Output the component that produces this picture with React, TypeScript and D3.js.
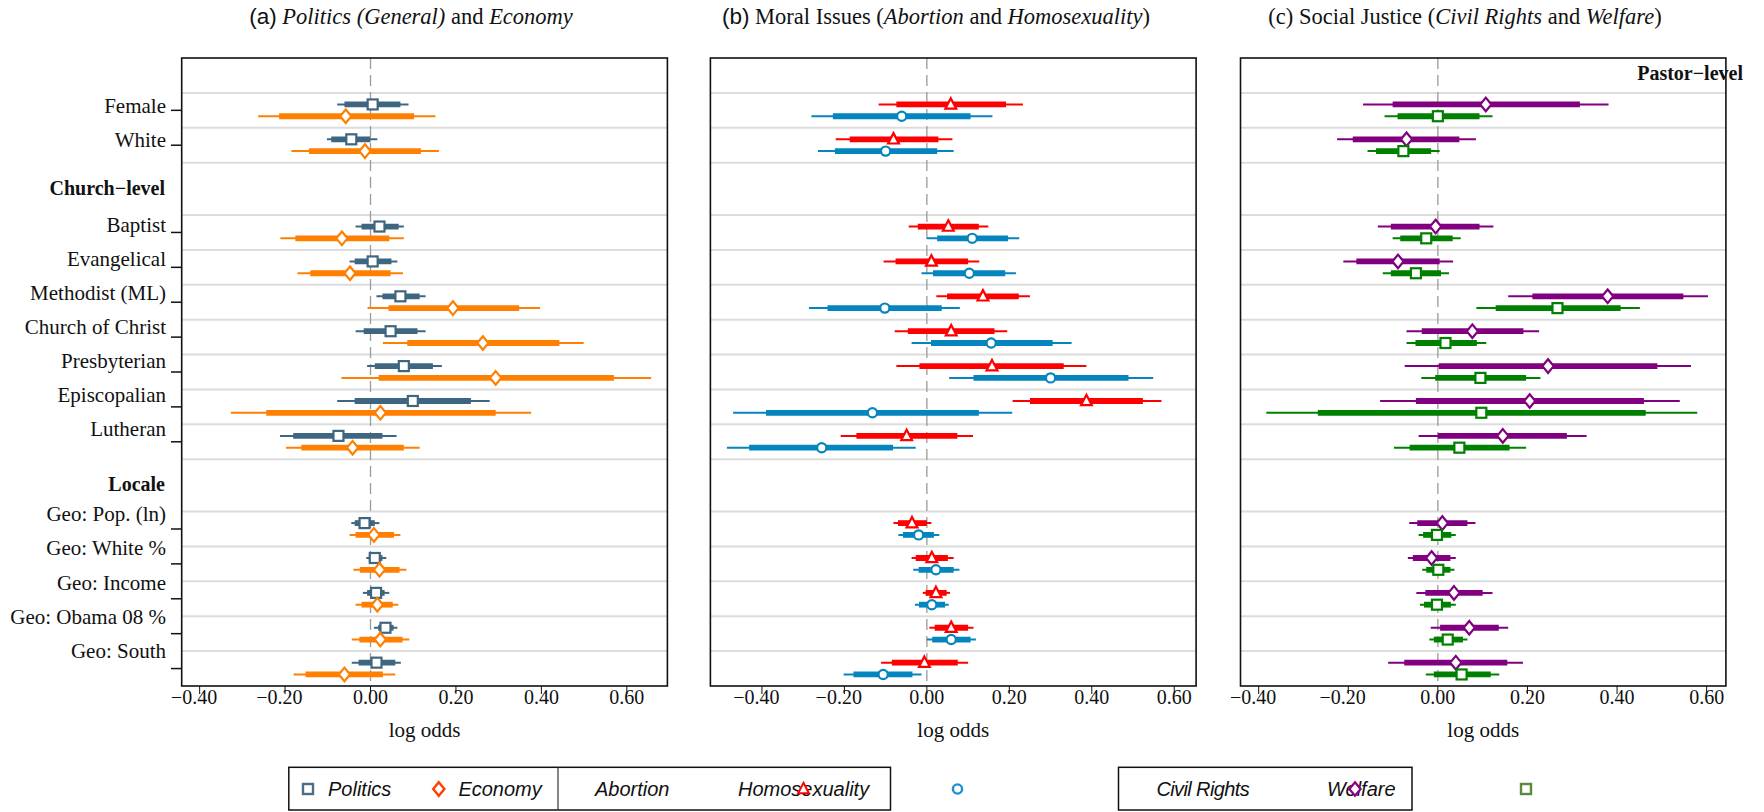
import * as d3 from "d3";

const variables = [
  "Female",
  "White",
  "Baptist",
  "Evangelical",
  "Methodist (ML)",
  "Church of Christ",
  "Presbyterian",
  "Episcopalian",
  "Lutheran",
  "Geo: Pop. (ln)",
  "Geo: White %",
  "Geo: Income",
  "Geo: Obama 08 %",
  "Geo: South",
];
const groupHeaders = ["Pastor−level", "Church−level", "Locale"];
const groupSizes = [2, 7, 5];
const xTicks = [-0.4, -0.2, 0, 0.2, 0.4, 0.6];

// each row: [estimate, outer low, inner low, inner high, outer high]
const politics = [
  [0.005, -0.078, -0.061, 0.07, 0.089],
  [-0.045, -0.102, -0.092, 0.0, 0.016],
  [0.021, -0.035, -0.021, 0.066, 0.078],
  [0.005, -0.049, -0.037, 0.049, 0.063],
  [0.07, 0.014, 0.028, 0.115, 0.129],
  [0.047, -0.035, -0.016, 0.11, 0.129],
  [0.078, -0.008, 0.01, 0.146, 0.167],
  [0.099, -0.078, -0.037, 0.235, 0.279],
  [-0.075, -0.212, -0.181, 0.028, 0.061],
  [-0.014, -0.045, -0.037, 0.01, 0.021],
  [0.01, -0.01, -0.004, 0.028, 0.037],
  [0.013, -0.018, -0.008, 0.033, 0.044],
  [0.035, 0.008, 0.018, 0.054, 0.063],
  [0.014, -0.044, -0.028, 0.058, 0.071],
];
const economy = [
  [-0.058, -0.263, -0.214, 0.102, 0.152],
  [-0.013, -0.185, -0.144, 0.118, 0.16],
  [-0.067, -0.211, -0.176, 0.044, 0.078],
  [-0.048, -0.171, -0.141, 0.047, 0.076],
  [0.193, -0.007, 0.042, 0.348, 0.397],
  [0.263, 0.029, 0.086, 0.442, 0.499],
  [0.293, -0.068, 0.019, 0.57, 0.657],
  [0.023, -0.327, -0.244, 0.293, 0.376],
  [-0.042, -0.198, -0.162, 0.078, 0.115],
  [0.008, -0.049, -0.035, 0.055, 0.07],
  [0.021, -0.04, -0.025, 0.068, 0.084],
  [0.016, -0.035, -0.021, 0.052, 0.065],
  [0.023, -0.044, -0.026, 0.075, 0.091],
  [-0.061, -0.18, -0.152, 0.029, 0.058],
];
const abortion = [
  [0.058, -0.117, -0.074, 0.192, 0.233],
  [-0.081, -0.221, -0.187, 0.028, 0.062],
  [0.052, -0.044, -0.022, 0.126, 0.149],
  [0.011, -0.105, -0.076, 0.1, 0.127],
  [0.136, 0.023, 0.049, 0.223, 0.25],
  [0.059, -0.078, -0.046, 0.164, 0.195],
  [0.158, -0.074, -0.018, 0.332, 0.387],
  [0.387, 0.208, 0.25, 0.524, 0.569],
  [-0.049, -0.209, -0.171, 0.074, 0.112],
  [-0.036, -0.081, -0.07, 0.0, 0.011],
  [0.012, -0.037, -0.027, 0.051, 0.065],
  [0.022, -0.01, -0.003, 0.048, 0.056],
  [0.059, 0.006, 0.019, 0.1, 0.113],
  [-0.006, -0.111, -0.085, 0.075, 0.1],
];
const homosexuality = [
  [-0.061, -0.28, -0.228, 0.106, 0.159],
  [-0.1, -0.264, -0.223, 0.025, 0.065],
  [0.11, 0.0, 0.025, 0.197, 0.224],
  [0.103, -0.013, 0.015, 0.19, 0.216],
  [-0.102, -0.286, -0.241, 0.036, 0.08],
  [0.156, -0.037, 0.01, 0.305, 0.351],
  [0.3, 0.054, 0.113, 0.489, 0.549],
  [-0.132, -0.47, -0.39, 0.126, 0.207],
  [-0.255, -0.485, -0.431, -0.082, -0.027],
  [-0.02, -0.069, -0.058, 0.017, 0.03],
  [0.022, -0.033, -0.02, 0.065, 0.079],
  [0.012, -0.029, -0.019, 0.044, 0.053],
  [0.059, 0.0, 0.013, 0.106, 0.119],
  [-0.106, -0.202, -0.178, -0.035, -0.013],
];
const civilRights = [
  [0.107, -0.167, -0.101, 0.317, 0.381],
  [-0.07, -0.225, -0.19, 0.048, 0.085],
  [-0.005, -0.134, -0.105, 0.093, 0.124],
  [-0.089, -0.211, -0.182, 0.004, 0.034],
  [0.379, 0.157, 0.211, 0.548, 0.603],
  [0.077, -0.07, -0.036, 0.191, 0.226],
  [0.246, -0.074, 0.002, 0.49, 0.565],
  [0.205, -0.129, -0.049, 0.46, 0.54],
  [0.145, -0.043, 0.0, 0.288, 0.332],
  [0.01, -0.064, -0.046, 0.066, 0.084],
  [-0.014, -0.067, -0.056, 0.028, 0.04],
  [0.036, -0.048, -0.028, 0.1, 0.122],
  [0.07, -0.016, 0.005, 0.136, 0.157],
  [0.04, -0.111, -0.075, 0.155, 0.19],
];
const welfare = [
  [0.0, -0.119, -0.09, 0.093, 0.122],
  [-0.077, -0.157, -0.138, -0.015, 0.004],
  [-0.026, -0.101, -0.084, 0.033, 0.051],
  [-0.049, -0.123, -0.105, 0.007, 0.025],
  [0.267, 0.086, 0.129, 0.408, 0.451],
  [0.017, -0.07, -0.05, 0.087, 0.108],
  [0.095, -0.037, -0.006, 0.197, 0.229],
  [0.097, -0.383, -0.268, 0.464, 0.579],
  [0.048, -0.098, -0.063, 0.16, 0.197],
  [-0.002, -0.043, -0.033, 0.03, 0.04],
  [0.001, -0.035, -0.026, 0.028, 0.037],
  [-0.002, -0.04, -0.031, 0.029, 0.04],
  [0.022, -0.019, -0.009, 0.056, 0.066],
  [0.053, -0.027, -0.009, 0.118, 0.137],
];

const SERIF = "'Liberation Serif', 'Times New Roman', serif";
const SANS = "'Liberation Sans', Arial, sans-serif";
const TOP = 58;
const BOTTOM = 686;
const headerUnits = [1, 1.5, 1.5];

// row layout in "units" (one unit per variable row)
const rowU: number[] = [];
const headerU: number[] = [];
let cur = 0;
groupSizes.forEach((n, g) => {
  headerU.push(cur + headerUnits[g] / 2);
  cur += headerUnits[g];
  for (let i = 0; i < n; i++) {
    rowU.push(cur + 0.5);
    cur += 1;
  }
});
const totalU = cur;
const y = d3.scaleLinear().domain([0, totalU]).range([TOP, BOTTOM]);
const labelY = d3.scaleLinear().domain([rowU[0], rowU[rowU.length - 1]]).range([105.5, 650.7]);
const sepU = Array.from(new Set(rowU.flatMap((u) => [u - 0.5, u + 0.5]))).filter((u) => u > 0 && u < totalU);

type Shape = "square" | "diamond" | "triangle" | "circle";

const panels = [
  {
    key: "a",
    range: [181.7, 667.4],
    domain: [-0.442, 0.695],
    titleX: 411,
    series: [
      { data: politics, color: "#3f6680", shape: "square" as Shape },
      { data: economy, color: "#ff7f00", shape: "diamond" as Shape },
    ],
  },
  {
    key: "b",
    range: [710.4, 1196.1],
    domain: [-0.525, 0.653],
    titleX: 936,
    series: [
      { data: abortion, color: "#ff0000", shape: "triangle" as Shape },
      { data: homosexuality, color: "#0485bd", shape: "circle" as Shape },
    ],
  },
  {
    key: "c",
    range: [1240.5, 1725.9],
    domain: [-0.4406, 0.643],
    titleX: 1465,
    series: [
      { data: civilRights, color: "#800080", shape: "diamond" as Shape },
      { data: welfare, color: "#008000", shape: "square" as Shape },
    ],
  },
];

function Marker({ shape, x, y, color, sw = 2.2 }: { shape: Shape; x: number; y: number; color: string; sw?: number }) {
  if (shape === "square")
    return <rect x={x - 5} y={y - 5} width={10} height={10} fill="white" stroke={color} strokeWidth={sw} />;
  if (shape === "circle") return <circle cx={x} cy={y} r={4.6} fill="white" stroke={color} strokeWidth={sw} />;
  if (shape === "diamond")
    return (
      <path
        d={`M${x},${y - 6.8}L${x + 5.6},${y}L${x},${y + 6.8}L${x - 5.6},${y}Z`}
        fill="white"
        stroke={color}
        strokeWidth={sw}
      />
    );
  return (
    <path
      d={`M${x},${y - 6.2}L${x + 5.4},${y + 4.2}L${x - 5.4},${y + 4.2}Z`}
      fill="white"
      stroke={color}
      strokeWidth={sw}
    />
  );
}

function Title({ k }: { k: string }) {
  if (k === "a")
    return (
      <>
        <tspan fontFamily={SANS}>(a)</tspan>
        <tspan fontStyle="italic"> Politics (General)</tspan>
        <tspan> and </tspan>
        <tspan fontStyle="italic">Economy</tspan>
      </>
    );
  if (k === "b")
    return (
      <>
        <tspan fontFamily={SANS}>(b)</tspan>
        <tspan> Moral Issues (</tspan>
        <tspan fontStyle="italic">Abortion</tspan>
        <tspan> and </tspan>
        <tspan fontStyle="italic">Homosexuality</tspan>
        <tspan>)</tspan>
      </>
    );
  return (
    <>
      <tspan>(c) Social Justice (</tspan>
      <tspan fontStyle="italic">Civil Rights</tspan>
      <tspan> and </tspan>
      <tspan fontStyle="italic">Welfare</tspan>
      <tspan>)</tspan>
    </>
  );
}

function Panel({ p }: { p: (typeof panels)[number] }) {
  const x = d3.scaleLinear().domain(p.domain).range(p.range);
  const [x0, x1] = p.range;
  const fmt = d3.format(".2f");
  const offsets = [-5.9, 5.9];
  return (
    <g>
      <text x={p.titleX} y={24} textAnchor="middle" fontFamily={SERIF} fontSize={22.5} fill="#111">
        <Title k={p.key} />
      </text>
      {sepU.map((u) => (
        <line key={u} x1={x0} x2={x1} y1={y(u)} y2={y(u)} stroke="#dcdcdc" strokeWidth={2} />
      ))}
      <line x1={x(0)} x2={x(0)} y1={TOP} y2={BOTTOM} stroke="#9a9a9a" strokeWidth={1.3} strokeDasharray="11,6" />
      {p.series.map((s, si) =>
        s.data.map((d, i) => {
          const yy = y(rowU[i]) + offsets[si];
          return (
            <g key={`${si}-${i}`}>
              <line x1={x(d[1])} x2={x(d[4])} y1={yy} y2={yy} stroke={s.color} strokeWidth={2} />
              <line x1={x(d[2])} x2={x(d[3])} y1={yy} y2={yy} stroke={s.color} strokeWidth={5.8} />
              <Marker shape={s.shape} x={x(d[0])} y={yy} color={s.color} />
            </g>
          );
        })
      )}
      <rect x={x0} y={TOP} width={x1 - x0} height={BOTTOM - TOP} fill="none" stroke="#111" strokeWidth={1.6} />
      {xTicks.map((t) => (
        <g key={t} fontFamily={SERIF} fontSize={20} fill="#111">
          <line x1={x(t)} x2={x(t)} y1={BOTTOM} y2={BOTTOM + 8} stroke="#111" strokeWidth={1} />
          <text x={x(t)} y={704} textAnchor="middle">
            {fmt(Math.abs(t))}
          </text>
          {t < 0 && (
            <text x={x(t) - 17.5} y={704} textAnchor="end">
              −
            </text>
          )}
        </g>
      ))}
      <text x={(x0 + x1) / 2} y={737} textAnchor="middle" fontFamily={SERIF} fontSize={21} fill="#111">
        log odds
      </text>
    </g>
  );
}

function Legend() {
  const ly = 789;
  const textProps = { fontFamily: SANS, fontSize: 20, fontStyle: "italic" as const, fill: "#111", dy: "0.35em" };
  return (
    <g>
      <rect x={288.8} y={767.3} width={601.7} height={42.7} fill="none" stroke="#111" strokeWidth={1.5} />
      <line x1={558} x2={558} y1={767.3} y2={810} stroke="#333" strokeWidth={1.2} />
      <Marker shape="square" x={308} y={ly} color="#4a6d8c" sw={2.4} />
      <text x={328} y={ly} {...textProps}>
        Politics
      </text>
      <Marker shape="diamond" x={438.8} y={ly} color="#ff4000" sw={2.4} />
      <text x={458.4} y={ly} {...textProps}>
        Economy
      </text>
      <text x={595} y={ly} {...textProps}>
        Abortion
      </text>
      <text x={738} y={ly} {...textProps}>
        Homosexuality
      </text>
      <Marker shape="triangle" x={803.5} y={ly} color="#ff0000" sw={2} />
      <Marker shape="circle" x={957.5} y={ly} color="#1a90d0" sw={2.4} />

      <rect x={1118.5} y={767.3} width={293.5} height={42.7} fill="none" stroke="#111" strokeWidth={1.5} />
      <text x={1156.4} y={ly} {...textProps} letterSpacing={-0.6}>
        Civil Rights
      </text>
      <text x={1327} y={ly} {...textProps}>
        Welfare
      </text>
      <Marker shape="diamond" x={1355} y={ly} color="#8b008b" sw={2.2} />
      <Marker shape="square" x={1526} y={ly} color="#5c8a3a" sw={2.4} />
    </g>
  );
}

export default function App() {
  const tickX0 = 171;
  const tickX1 = panels[0].range[0];
  return (
    <svg width={1764} height={812} style={{ position: "absolute", left: 0, top: 0, background: "white" }}>
      <rect width={1764} height={812} fill="white" />
      {panels.map((p) => (
        <Panel key={p.key} p={p} />
      ))}
      {/* variable labels and y ticks on the left of panel (a) */}
      {variables.map((v, i) => (
        <g key={v}>
          <line x1={tickX0} x2={tickX1} y1={y(rowU[i])} y2={y(rowU[i])} stroke="#111" strokeWidth={1.5} />
          <text x={166} y={labelY(rowU[i]) + 7} textAnchor="end" fontFamily={SERIF} fontSize={21} fill="#111">
            {v}
          </text>
        </g>
      ))}
      {groupHeaders.slice(1).map((h, i) => (
        <text
          key={h}
          x={165}
          y={y(headerU[i + 1]) + 6}
          textAnchor="end"
          fontFamily={SERIF}
          fontSize={20}
          fontWeight="bold"
          fill="#111"
        >
          {h}
        </text>
      ))}
      <text x={1743} y={80} textAnchor="end" fontFamily={SERIF} fontSize={20} fontWeight="bold" fill="#111">
        {groupHeaders[0]}
      </text>
      <Legend />
    </svg>
  );
}
